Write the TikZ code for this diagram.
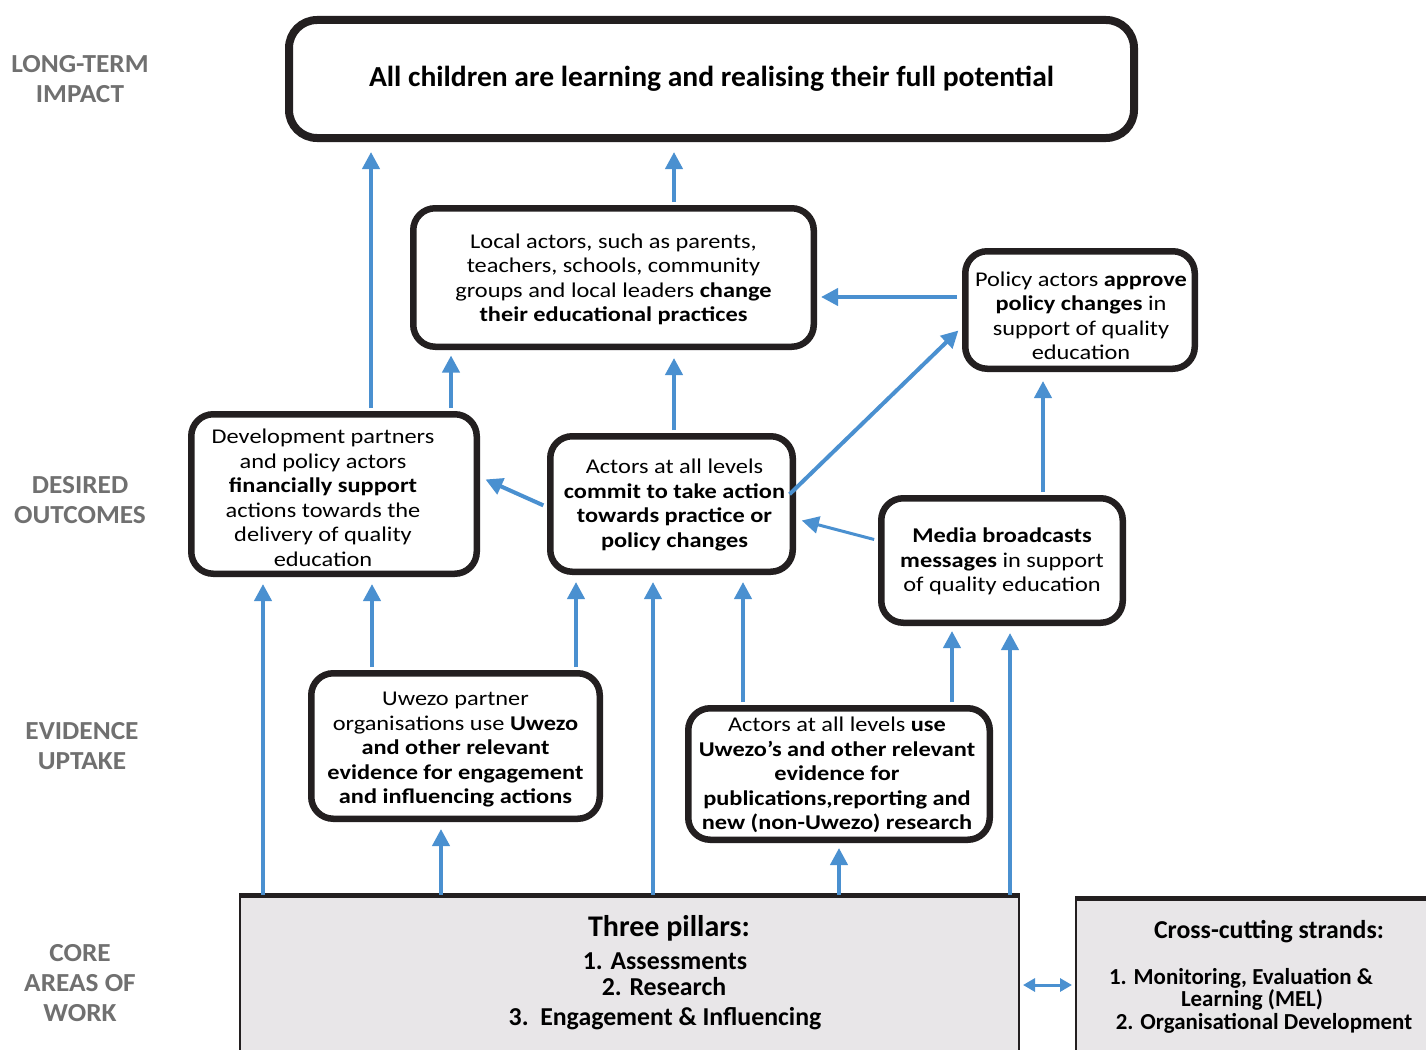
\documentclass[tikz,border=0pt]{standalone}
\usepackage{fontspec}
\setmainfont{Carlito}
\newfontfamily\widefont[FakeStretch=1.16]{Carlito}
\newfontfamily\titlefont[FakeStretch=1.02]{Carlito}
\newfontfamily\lblfont[FakeStretch=1.05]{Carlito}
\usetikzlibrary{arrows.meta}
\definecolor{arrblue}{RGB}{74,144,208}
\definecolor{lblgray}{RGB}{112,112,112}
\definecolor{pillgray}{RGB}{232,230,232}
\definecolor{boxblack}{RGB}{35,31,32}
\tikzset{
  box/.style={draw=boxblack, line width=6.5pt, rounded corners=22pt, fill=white, align=center, inner sep=0pt, font=\widefont\fontsize{21}{24.5}\selectfont},
  boxtext/.style={inner sep=0pt, align=center, font=\widefont\fontsize{21}{24.5}\selectfont},
  arr/.style={draw=arrblue, line width=4pt, -{Triangle[length=17pt,width=17pt]}, shorten <=3pt, shorten >=7pt},
  lbl/.style={text=lblgray, font=\lblfont\fontsize{26}{30}\selectfont\bfseries, align=center},
  plain/.style={inner sep=0pt, align=center},
  core/.style={draw=boxblack, line width=2pt, fill=pillgray, inner sep=0pt},
}
\begin{document}
\begin{tikzpicture}[x=1pt,y=-1pt]
\useasboundingbox (0,0) rectangle (1426,1049);
\clip (0,0) rectangle (1426,1049);
\fill[white] (0,0) rectangle (1426,1049);
% left labels
\node[lbl] (l1) at (80,79) {LONG-TERM\\IMPACT};
\node[lbl] (l2) at (80,500) {DESIRED\\OUTCOMES};
\node[lbl] (l3) at (82,746) {EVIDENCE\\UPTAKE};
\node[lbl] (l4) at (80,983) {CORE\\AREAS OF\\WORK};
% boxes
\node[box, line width=8pt, rounded corners=28pt, minimum width=845pt, minimum height=118pt, font=\titlefont\fontsize{29}{32}\selectfont\bfseries] (top) at (711.5,79) {All children are learning and realising their full potential};
\node[box, minimum width=400.5pt, minimum height=138.5pt] (local) at (613.5,277.5) {};
\node[boxtext] (localtxt) at ([yshift=-2pt]local.center) {Local actors, such as parents,\\ teachers, schools, community\\ groups and local leaders \textbf{change}\\ \textbf{their educational practices}};
\node[box, minimum width=229.5pt, minimum height=117.5pt] (policy) at (1080,310) {};
\node[boxtext] (policytxt) at ([xshift=1pt,yshift=-6pt]policy.center) {Policy actors \textbf{approve}\\ \textbf{policy changes} in\\ support of quality\\ education};
\node[box, minimum width=285.5pt, minimum height=159.5pt] (dev) at (334,494) {};
\node[boxtext] (devtxt) at ([xshift=-11pt,yshift=-4pt]dev.center) {Development partners\\ and policy actors\\ \textbf{financially support}\\ actions towards the\\ delivery of quality\\ education};
\node[box, minimum width=242.5pt, minimum height=135.5pt] (commit) at (671.5,504) {};
\node[boxtext] (committxt) at ([xshift=3pt,yshift=-1pt]commit.center) {Actors at all levels\\ \textbf{commit to take action}\\ \textbf{towards practice or}\\ \textbf{policy changes}};
\node[box, minimum width=241.5pt, minimum height=124.5pt] (media) at (1002,560.5) {};
\node[boxtext] (mediatxt) at ([yshift=-1pt]media.center) {\textbf{Media broadcasts}\\ \textbf{messages} in support\\ of quality education};
\node[box, minimum width=288.5pt, minimum height=145.5pt] (uwezo) at (455.5,746) {};
\node[boxtext] (uwezotxt) at ([yshift=-4pt]uwezo.center) {Uwezo partner\\ organisations use \textbf{Uwezo}\\ \textbf{and other relevant}\\ \textbf{evidence for engagement}\\ \textbf{and influencing actions}};
\node[box, minimum width=301.5pt, minimum height=131.5pt] (use) at (839,774) {};
\node[boxtext] (usetxt) at ([xshift=-2pt,yshift=-1pt]use.center) {Actors at all levels \textbf{use}\\ \textbf{Uwezo’s and other relevant}\\ \textbf{evidence for}\\ \textbf{publications,reporting and}\\ \textbf{new (non-Uwezo) research}};
% core areas
\node[core, minimum width=779pt, minimum height=164pt] (pillars) at (629.5,978) {};
\draw[boxblack, line width=5pt] (pillars.north west) -- (pillars.north east);
\node[core, minimum width=364pt, minimum height=161pt] (cross) at (1258,979.5) {};
\draw[boxblack, line width=5pt] (cross.north west) -- (cross.north east);
\node[plain, font=\fontsize{30}{32}\selectfont\bfseries] (p0) at (669,928) {Three pillars:};
\node[plain, font=\fontsize{25.8}{28}\selectfont\bfseries] (p1) at (665,961) {1. Assessments};
\node[plain, font=\fontsize{25.8}{28}\selectfont\bfseries] (p2) at (664,987) {2. Research};
\node[plain, font=\fontsize{25.8}{28}\selectfont\bfseries] (p3) at (665,1019) {3.\ \ Engagement \& Influencing};
\node[plain, font=\fontsize{25.8}{28}\selectfont\bfseries] (c0) at (1269,932) {Cross-cutting strands:};
\node[plain, font=\fontsize{22.9}{25}\selectfont\bfseries] (c1) at (1241,978) {1. Monitoring, Evaluation \&};
\node[plain, font=\fontsize{22.9}{25}\selectfont\bfseries] (c2) at (1252,1000) {Learning (MEL)};
\node[plain, font=\fontsize{22.9}{25}\selectfont\bfseries] (c3) at (1264,1023) {2. Organisational Development};
% arrows
\draw[arr, shorten >=10pt] (371,0 |- dev.north) -- (371,0 |- top.south);
\draw[arr, shorten >=10pt] (674,0 |- local.north) -- (674,0 |- top.south);
\draw[arr, shorten >=5.5pt] (451,0 |- dev.north) -- (451,0 |- local.south);
\draw[arr, shorten >=8pt] (674,0 |- commit.north) -- (674,0 |- local.south);
\draw[arr, shorten >=9pt] (1043,0 |- media.north) -- (1043,0 |- policy.south);
\draw[arr, shorten <=0pt] (263,0 |- pillars.north) -- (263,0 |- dev.south);
\draw[arr] (372,0 |- uwezo.north) -- (372,0 |- dev.south);
\draw[arr] (576,0 |- uwezo.north) -- (576,0 |- commit.south);
\draw[arr, shorten <=0pt] (653,0 |- pillars.north) -- (653,0 |- commit.south);
\draw[arr] (743,0 |- use.north) -- (743,0 |- commit.south);
\draw[arr, shorten >=5pt] (952,0 |- use.north) -- (952,0 |- media.south);
\draw[arr, shorten <=0pt] (1010,0 |- pillars.north) -- (1010,0 |- media.south);
\draw[arr, shorten <=0pt] (441,0 |- pillars.north) -- (441,0 |- uwezo.south);
\draw[arr, shorten <=0pt, shorten >=5pt] (839,0 |- pillars.north) -- (839,0 |- use.south);
\draw[arr, shorten <=5pt, shorten >=4pt] ([yshift=13pt]policy.west) -- ([yshift=-19.5pt]local.east);
\draw[arr, shorten <=-9pt, shorten >=5pt] ([yshift=16pt]commit.east) -- ([yshift=-17pt]policy.west);
\draw[arr, shorten <=4pt, shorten >=6pt] ([yshift=-3pt]commit.west) -- ([yshift=17pt]dev.east);
\draw[arr, line width=3pt, shorten <=4pt, shorten >=6pt] ([yshift=20pt]media.west) -- ([yshift=-15pt]commit.east);
\draw[draw=arrblue, line width=3pt, {Triangle[length=12pt,width=13pt]}-{Triangle[length=12pt,width=13pt]}, shorten <=3pt, shorten >=3pt] (pillars.east |- 0,985) -- (cross.west |- 0,985);
\end{tikzpicture}
\end{document}
